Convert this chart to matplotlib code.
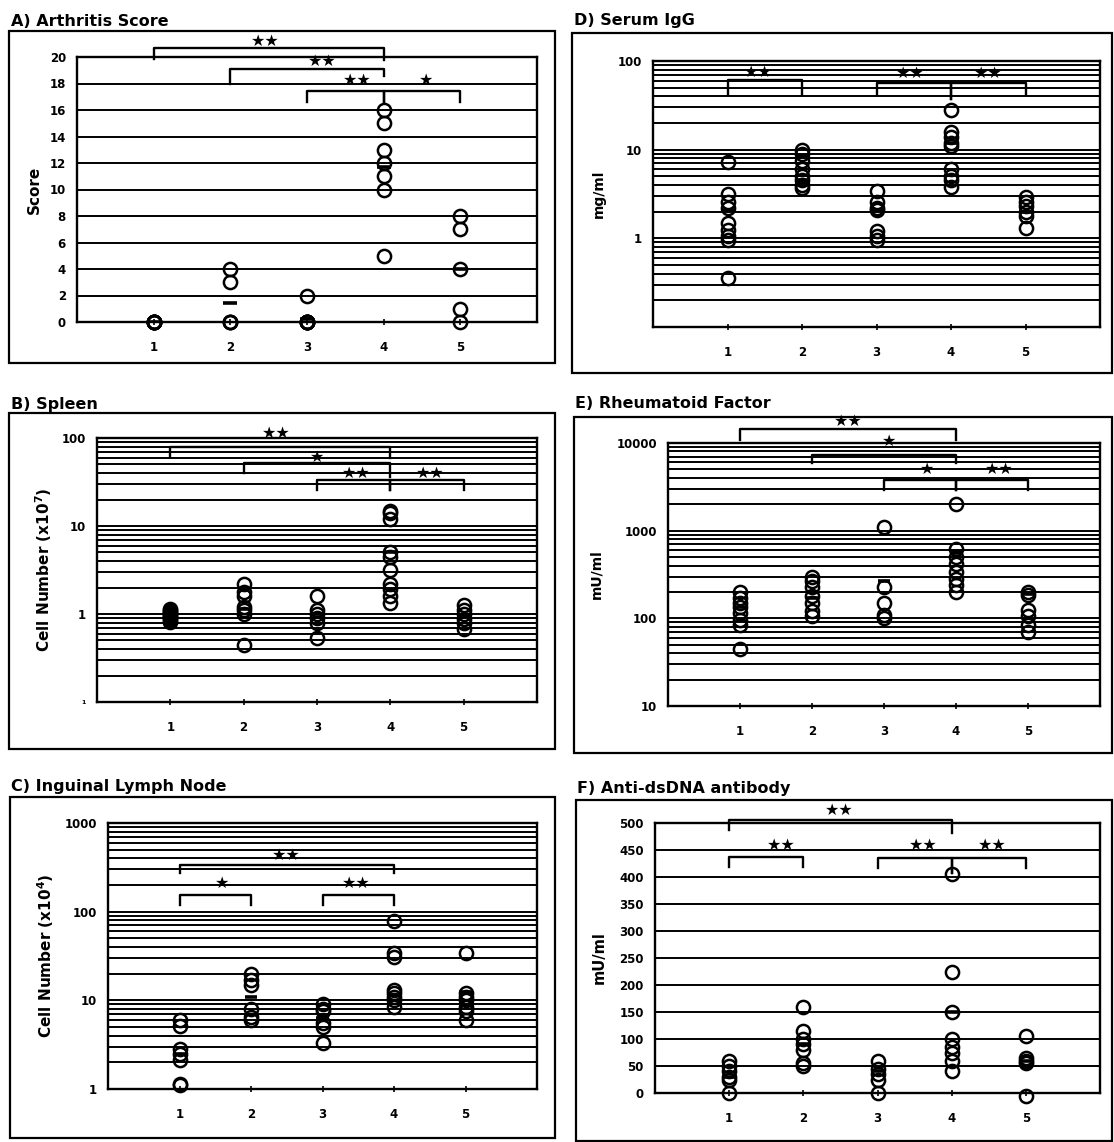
import numpy as np
import matplotlib
matplotlib.use("Agg")
import matplotlib.pyplot as plt
from matplotlib.patches import Rectangle
from matplotlib.ticker import FixedLocator, LogLocator, NullFormatter

plt.rcParams['font.family'] = ['DejaVu Sans']
plt.rcParams['font.weight'] = 'bold'

groups = [1, 2, 3, 4, 5]
group_labels = ['1', '2', '3', '4', '5']

# ---- data ----
arthritis = [[0, 0, 0, 0, 0, 0, 0, 0], [0, 0, 0, 3, 4], [0, 0, 0, 0, 0, 0, 0, 2],
             [16, 15, 13, 12, 11, 10, 5], [8, 7, 4, 1, 0]]
spleen = [[0.82, 0.86, 0.9, 0.93, 0.96, 1.0, 1.03, 1.06, 1.1, 1.13],
          [2.2, 1.8, 1.6, 1.2, 1.1, 1.0, 0.45],
          [1.6, 1.1, 1.0, 0.9, 0.8, 0.53],
          [15, 14, 12, 5, 4.5, 3.2, 2.2, 1.9, 1.6, 1.35],
          [1.25, 1.1, 1.0, 0.88, 0.78, 0.68]]
spleen_means = [1.0, 1.15, 1.0, 5.0, 0.95]
lymph = [[6, 5.2, 2.8, 2.5, 2.1, 1.15, 1.1],
         [20, 17, 15, 8, 6.5, 6],
         [9, 8, 7.5, 5.5, 5, 3.3],
         [78, 34, 31, 13, 12, 11, 10, 8.5],
         [34, 12, 11, 10, 8.5, 7.5, 6]]
lymph_means = [2.5, 11, 6.3, 11.5, 12.5]
igg = [[7.3, 3.2, 2.6, 2.2, 1.5, 1.25, 1.05, 0.97, 0.36],
       [10, 9, 7.5, 6, 5, 4.5, 4, 3.7],
       [3.4, 2.6, 2.2, 2.1, 1.2, 1.05, 0.95],
       [28, 16, 14, 12, 11, 6, 5, 4.5, 3.8],
       [2.9, 2.6, 2.3, 2.0, 1.8, 1.3]]
igg_means = [2.1, 4.5, 2.1, 12, 2.0]
rf = [[200, 170, 150, 135, 115, 95, 85, 45],
      [300, 270, 230, 180, 150, 120, 105],
      [1100, 230, 150, 110, 100],
      [2000, 620, 500, 420, 340, 280, 240, 200],
      [200, 185, 125, 105, 85, 70]]
rf_means = [135, 170, 270, 550, 190]
dsdna = [[60, 50, 40, 30, 25, 0],
         [160, 115, 100, 90, 80, 55, 50],
         [60, 45, 35, 25, 0],
         [405, 225, 150, 100, 85, 75, 60, 40],
         [105, 65, 60, 55, -5]]
dsdna_means = [30, 90, 40, 150, 60]

# significance brackets: (x1, x2, bar_y, left_end_y, right_end_y, label, label_x, label_y)
brackets_A = [(1, 4, 20.65, 19.85, 19.8, '★★', 2.45, 21.15),
              (2, 4, 19.1, 18.0, 18.6, '★★', 3.2, 19.7),
              (3, 4, 17.4, 16.6, 16.6, '★★', 3.65, 18.2),
              (4, 5, 17.4, 16.6, 16.6, '★', 4.55, 18.2)]
brackets_B = [(1, 4, 79, 61, 59, '★★', 2.45, 114),
              (2, 4, 52, 40, 36, '★', 3.0, 60),
              (3, 4, 33, 25.6, 25.6, '★★', 3.54, 40),
              (4, 5, 33, 25.6, 25.6, '★★', 4.54, 40)]
brackets_C = [(1, 4, 340, 275, 270, '★★', 2.5, 435),
              (1, 2, 154, 120, 120, '★', 1.6, 210),
              (3, 4, 154, 120, 120, '★★', 3.48, 210)]
brackets_D = [(1, 2, 61, 41.5, 41.5, '★★', 1.42, 75),
              (3, 4, 56, 41.5, 37, '★★', 3.45, 73),
              (4, 5, 56, 37, 41.5, '★★', 4.5, 73)]
brackets_E = [(1, 4, 14500, 10800, 10800, '★★', 2.5, 17400),
              (2, 4, 7300, 5900, 5900, '★', 3.07, 10500),
              (3, 4, 3800, 2900, 2900, '★', 3.6, 5000),
              (4, 5, 3800, 2900, 2900, '★★', 4.6, 5000)]
brackets_F = [(1, 4, 505, 487, 481, '★★', 2.48, 524),
              (1, 2, 437, 419, 419, '★★', 1.7, 459),
              (3, 4, 435, 417, 407, '★★', 3.62, 459),
              (4, 5, 435, 407, 417, '★★', 4.55, 459)]

W, H = 1114, 1142
fig = plt.figure(figsize=(W / 100, H / 100), dpi=100)
fig.patch.set_facecolor('white')


def px_axes(l, t, r, b):
    return fig.add_axes([l / W, 1 - b / H, (r - l) / W, (b - t) / H])


def px_box(l, t, r, b):
    fig.add_artist(Rectangle((l / W, 1 - b / H), (r - l) / W, (b - t) / H,
                             transform=fig.transFigure, fill=False, lw=1.6, ec='black'))


panels = [
    dict(title='A) Arthritis Score', box=(9, 31, 555, 363), ax=(77, 57, 537, 322), tpos=(11, 21),
         data=arthritis, means=[float(np.mean(v)) for v in arthritis], log=False, ylim=(0, 20),
         yticks=list(range(0, 21, 2)), yticklabels=[str(v) for v in range(0, 21, 2)],
         ylabel='Score', ylx=34, ylfs=11, brackets=brackets_A),
    dict(title='B) Spleen', box=(9, 413, 555, 749), ax=(97, 438, 537, 702), tpos=(11, 404),
         data=spleen, means=spleen_means, log=True, ylim=(0.1, 100),
         yticks=[0.1, 1, 10, 100], yticklabels=['1', '1', '10', '100'],
         ylabel='Cell Number (x10$^7$)', ylx=44, ylfs=11, brackets=brackets_B),
    dict(title='C) Inguinal Lymph Node', box=(10, 797, 555, 1138), ax=(108, 823, 537, 1089), tpos=(11, 787),
         data=lymph, means=lymph_means, log=True, ylim=(1, 1000),
         yticks=[1, 10, 100, 1000], yticklabels=['1', '10', '100', '1000'],
         ylabel='Cell Number (x10$^4$)', ylx=46, ylfs=11, brackets=brackets_C),
    dict(title='D) Serum IgG', box=(572, 33, 1112, 373), ax=(653, 61, 1100, 327), tpos=(574, 21),
         data=igg, means=igg_means, log=True, ylim=(0.1, 100),
         yticks=[1, 10, 100], yticklabels=['1', '10', '100'],
         ylabel='mg/ml', ylx=599, ylfs=10, brackets=brackets_D),
    dict(title='E) Rheumatoid Factor', box=(574, 417, 1112, 753), ax=(668, 443, 1100, 706), tpos=(575, 404),
         data=rf, means=rf_means, log=True, ylim=(10, 10000),
         yticks=[10, 100, 1000, 10000], yticklabels=['10', '100', '1000', '10000'],
         ylabel='mU/ml', ylx=596, ylfs=10, brackets=brackets_E),
    dict(title='F) Anti-dsDNA antibody', box=(576, 800, 1112, 1141), ax=(655, 823, 1100, 1093), tpos=(577, 788),
         data=dsdna, means=dsdna_means, log=False, ylim=(0, 500),
         yticks=list(range(0, 501, 50)), yticklabels=[str(v) for v in range(0, 501, 50)],
         ylabel='mU/ml', ylx=599, ylfs=10.5, brackets=brackets_F),
]

for p in panels:
    px_box(*p['box'])
    fig.text(p['tpos'][0] / W, 1 - p['tpos'][1] / H, p['title'], ha='left', va='center',
             fontsize=11.5, fontweight='bold')
    ax = px_axes(*p['ax'])
    l, t, r, b = p['ax']
    fig.text(p['ylx'] / W, 1 - ((t + b) / 2) / H, p['ylabel'], rotation=90, ha='center', va='center',
             fontsize=p['ylfs'], fontweight='bold')
    if p['log']:
        ax.set_yscale('log')
        ax.yaxis.set_minor_locator(LogLocator(base=10, subs=np.arange(2, 10)))
        ax.yaxis.set_minor_formatter(NullFormatter())
    ax.set_ylim(*p['ylim'])
    ax.set_xlim(0, 6)
    ax.yaxis.set_major_locator(FixedLocator(p['yticks']))
    ax.set_yticklabels(p['yticklabels'], fontsize=8.5, fontweight='bold')
    if p['title'].startswith('B'):
        ax.get_yticklabels()[0].set_fontsize(4.5)
    ax.set_xticks(groups)
    ax.set_xticklabels(group_labels, fontsize=8.5, fontweight='bold')
    ax.tick_params(axis='y', which='both', length=0, pad=8)
    ax.tick_params(axis='x', which='both', length=5, direction='inout', width=1.2, pad=11)
    ax.grid(axis='y', which='both', color='black', lw=1.4)
    ax.set_axisbelow(True)
    for s in ax.spines.values():
        s.set_linewidth(1.7)
    for g, vals in zip(groups, p['data']):
        ax.plot(np.full(len(vals), g), vals, 'o', mfc='none', mec='black', ms=9.5, mew=1.8,
                clip_on=False, zorder=3)
    ax.hlines(p['means'], np.array(groups) - 0.09, np.array(groups) + 0.09, colors='black',
              lw=2.6, zorder=3)
    for (x1, x2, yb, y1, y2, lab, lx, ly) in p['brackets']:
        ax.plot([x1, x1, x2, x2], [y1, yb, yb, y2], color='black', lw=1.7, clip_on=False, zorder=4)
        ax.text(lx, ly, lab, ha='center', va='center', fontsize=11.5,
                clip_on=False, zorder=5)

fig.savefig('out.png', dpi=100, facecolor='white')
